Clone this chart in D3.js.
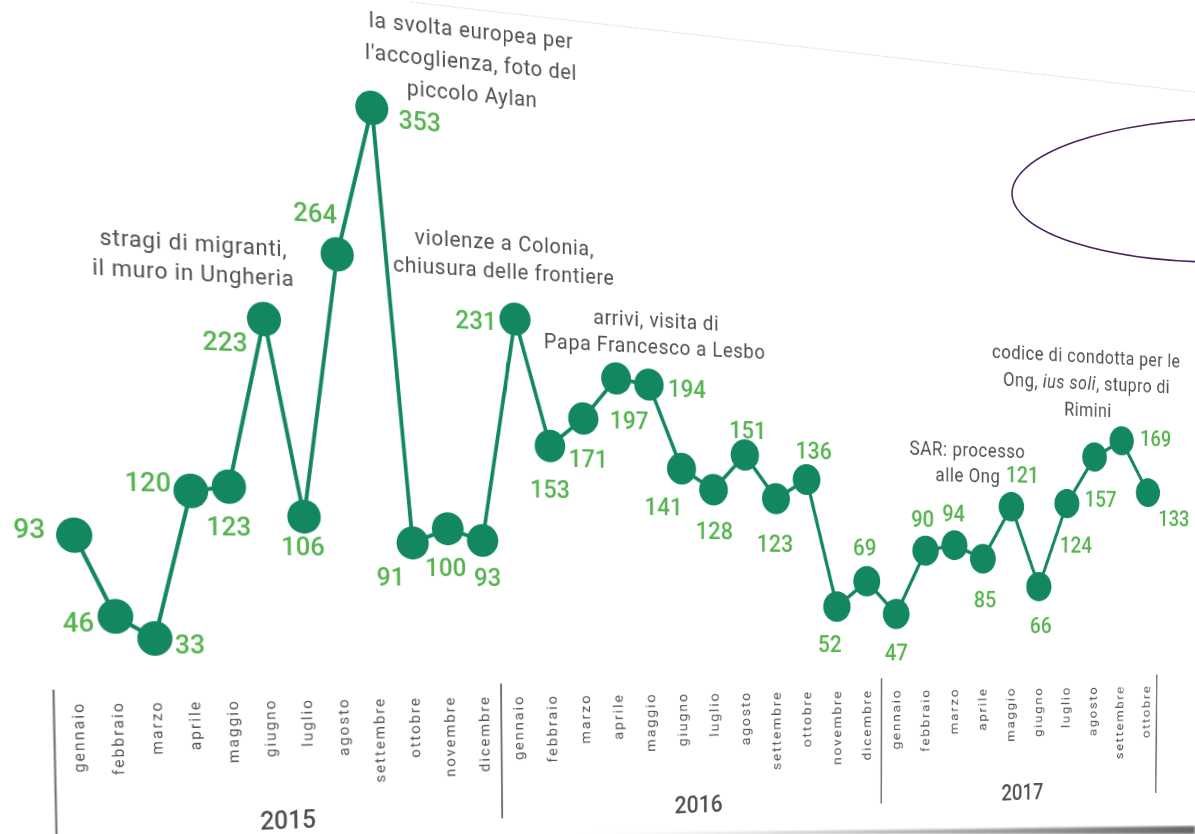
<!doctype html>
<html>
<head>
<meta charset="utf-8">
<title>Arrivi per mese 2015-2017</title>
<script src="https://cdn.jsdelivr.net/npm/d3@7"></script>
<style>
  body { margin: 0; background: #fff; overflow: hidden; width: 1195px; height: 834px; position: relative;
         font-family: Roboto, "Noto Sans", sans-serif; }
  #stage { position: absolute; left: 0; top: 0; width: 1400px; height: 900px; transform-origin: 0 0; }
  #paper { position: absolute; left: 0; top: 0; }
</style>
</head>
<body>
<div id="stage"><svg id="chart" width="1400" height="900" overflow="visible"></svg></div>
<svg id="paper" width="1195" height="834"></svg>
<script>
var months = ['gennaio', 'febbraio', 'marzo', 'aprile', 'maggio', 'giugno', 'luglio',
              'agosto', 'settembre', 'ottobre', 'novembre', 'dicembre'];
var years = ['2015', '2016', '2017'];
var values2015 = [93, 46, 33, 120, 123, 223, 106, 264, 353, 91, 100, 93];
var values2016 = [231, 153, 171, 197, 194, 141, 128, 151, 123, 136, 52, 69];
var values2017 = [47, 90, 94, 85, 121, 66, 124, 157, 169, 133];

// where each value label sits relative to its dot (photo px)
var labelOffsets = [[-45, -7], [-37, 6], [35, 6], [-43, -9], [0, 40], [-39, 22], [-1, 30], [-22, -41],
  [48, 13], [-22, 34], [-2, 39], [5, 37],
  [-39, 1], [0, 43], [5, 40], [13, 42], [38, 4], [-18, 38], [1, 41], [3, -25], [-1, 45], [7, -29],
  [-7, 37], [-2, -34],
  [0, 38], [-3, -32], [-1, -32], [2, 41], [11, -32], [2, 39], [9, 41], [6, 42], [34, -2], [26, 26]];

var notes = [
  { lines: ['la svolta europea per', "l'accoglienza, foto del", 'piccolo Aylan'], at: [473, 31], gap: 31.5 },
  { lines: ['stragi di migranti,', 'il muro in Ungheria'], at: [195, 243], gap: 30 },
  { lines: ['violenze a Colonia,', 'chiusura delle frontiere'], at: [506, 243], gap: 28 },
  { lines: ['arrivi, visita di', 'Papa Francesco a Lesbo'], at: [657, 320], gap: 27 },
  { lines: ['codice di condotta per le', 'Ong, *ius soli*, stupro di', 'Rimini'], at: [1088, 357], gap: 26.5 },
  { lines: ['SAR: processo', 'alle Ong'], at: [968, 450], gap: 26 }
];

// the page was photographed at an angle: where the corners of the flat page land
var pageSize = [1400, 900];
var pageCorners = [[-14.4, -43.0], [1219.1, 94.4], [1211.0, 846.4], [6.9, 907.9]];

var green = '#13875f', labelGreen = '#56b450', grey = '#4f5052';
var font = 'Roboto, "Noto Sans", sans-serif';

var series = [];
[values2015, values2016, values2017].forEach(function(vals, k) {
  vals.forEach(function(v, m) { series.push({ year: years[k], month: months[m], value: v }); });
});
series.forEach(function(d, i) { d.i = i; });

var x = d3.scaleLinear().domain([0, 33]).range([70, 1304.2]);
var y = d3.scaleLinear().domain([0, 353]).range([696, 107]);

function solve(A, b) {
  var n = b.length;
  for (var i = 0; i < n; i++) {
    var p = i;
    for (var r = i + 1; r < n; r++) if (Math.abs(A[r][i]) > Math.abs(A[p][i])) p = r;
    var t = A[i]; A[i] = A[p]; A[p] = t; t = b[i]; b[i] = b[p]; b[p] = t;
    for (r = i + 1; r < n; r++) {
      var f = A[r][i] / A[i][i];
      for (var c = i; c < n; c++) A[r][c] -= f * A[i][c];
      b[r] -= f * b[i];
    }
  }
  var out = new Array(n).fill(0);
  for (i = n - 1; i >= 0; i--) {
    var s = b[i];
    for (c = i + 1; c < n; c++) s -= A[i][c] * out[c];
    out[i] = s / A[i][i];
  }
  return out;
}

// homography from 4 point pairs
function homography(src, dst) {
  var A = [], b = [];
  src.forEach(function(p, k) {
    var X = dst[k][0], Y = dst[k][1];
    A.push([p[0], p[1], 1, 0, 0, 0, -p[0] * X, -p[1] * X]); b.push(X);
    A.push([0, 0, 0, p[0], p[1], 1, -p[0] * Y, -p[1] * Y]); b.push(Y);
  });
  return solve(A, b);
}

function project(H, p) {
  var w = H[6] * p[0] + H[7] * p[1] + 1;
  return [(H[0] * p[0] + H[1] * p[1] + H[2]) / w, (H[3] * p[0] + H[4] * p[1] + H[5]) / w];
}

function invert(H) {
  var a = H[0], b = H[1], c = H[2], d = H[3], e = H[4], f = H[5], g = H[6], h = H[7], k = 1;
  var A = e * k - f * h, B = c * h - b * k, C = b * f - c * e,
      D = f * g - d * k, E = a * k - c * g, F = c * d - a * f,
      G = d * h - e * g, Hh = b * g - a * h, I = a * e - b * d;
  return [A / I, B / I, C / I, D / I, E / I, F / I, G / I, Hh / I];
}

var W = pageSize[0], Ht = pageSize[1];
var H = homography([[0, 0], [W, 0], [W, Ht], [0, Ht]], pageCorners);
var Hinv = invert(H);
function toFlat(p) { return project(Hinv, p); }

d3.select('#stage').style('transform', 'matrix3d(' + [H[0], H[3], 0, H[6], H[1], H[4], 0, H[7],
  0, 0, 1, 0, H[2], H[5], 0, 1].join(',') + ')');

var svg = d3.select('#chart');

// axis: month labels, year separators, year labels
var axis = svg.append('g').attr('class', 'axis');
axis.selectAll('text.month')
  .data(series)
  .enter().append('text')
    .attr('class', 'month')
    .attr('transform', function(d) { return 'translate(' + x(d.i) + ',702) rotate(-90)'; })
    .attr('text-anchor', 'end')
    .attr('dominant-baseline', 'central')
    .attr('font-family', font)
    .attr('font-size', 15.5)
    .attr('letter-spacing', 2)
    .attr('fill', '#555')
    .text(function(d) { return d.month; });

var bounds = [-0.6, 11.5, 23.5, 33.4];
axis.selectAll('line.sep')
  .data(bounds)
  .enter().append('line')
    .attr('class', 'sep')
    .attr('x1', function(d) { return x(d); })
    .attr('x2', function(d) { return x(d); })
    .attr('y1', 690).attr('y2', 832)
    .attr('stroke', '#6f6f6f').attr('stroke-width', 2);

axis.selectAll('text.year')
  .data(years)
  .enter().append('text')
    .attr('class', 'year')
    .attr('x', function(d, k) { return x((bounds[k] + bounds[k + 1]) / 2); })
    .attr('y', 825)
    .attr('text-anchor', 'middle')
    .attr('dominant-baseline', 'central')
    .attr('font-family', font)
    .attr('font-size', 25)
    .attr('font-weight', 500)
    .attr('fill', grey)
    .text(function(d) { return d; });

// line and dots
var line = d3.line().x(function(d) { return x(d.i); }).y(function(d) { return y(d.value); });
svg.append('path')
  .datum(series)
  .attr('d', line)
  .attr('fill', 'none')
  .attr('stroke', green)
  .attr('stroke-width', 4);

svg.selectAll('circle.dot')
  .data(series)
  .enter().append('circle')
    .attr('class', 'dot')
    .attr('cx', function(d) { return x(d.i); })
    .attr('cy', function(d) { return y(d.value); })
    .attr('r', 17)
    .attr('fill', green);

// value labels, placed in photo space then brought back to the flat page
svg.selectAll('text.value')
  .data(series)
  .enter().append('text')
    .attr('class', 'value')
    .each(function(d) {
      var s = project(H, [x(d.i), y(d.value)]);
      var o = labelOffsets[d.i];
      var p = toFlat([s[0] + o[0], s[1] + o[1]]);
      d3.select(this).attr('x', p[0]).attr('y', p[1]);
    })
    .attr('text-anchor', 'middle')
    .attr('dominant-baseline', 'central')
    .attr('font-family', font)
    .attr('font-size', 26)
    .attr('font-weight', 500)
    .attr('fill', labelGreen)
    .text(function(d) { return d.value; });

// annotations
notes.forEach(function(n) {
  n.lines.forEach(function(str, k) {
    var p = toFlat([n.at[0], n.at[1] + k * n.gap]);
    var t = svg.append('text')
      .attr('x', p[0]).attr('y', p[1])
      .attr('text-anchor', 'middle')
      .attr('dominant-baseline', 'central')
      .attr('font-family', font)
      .attr('font-size', 22)
      .attr('letter-spacing', 0.7)
      .attr('fill', grey);
    str.split('*').forEach(function(part, j) {
      t.append('tspan').attr('font-style', j % 2 ? 'italic' : null).text(part);
    });
  });
});

// the photographed page: edge, shadow, pen ellipse
var paper = d3.select('#paper');
var defs = paper.append('defs');
var grad = defs.append('linearGradient').attr('id', 'shade').attr('x1', 0).attr('x2', 1);
grad.append('stop').attr('offset', 0).attr('stop-color', '#888').attr('stop-opacity', 0);
grad.append('stop').attr('offset', 1).attr('stop-color', '#555').attr('stop-opacity', 0.9);
defs.append('filter').attr('id', 'soft').append('feGaussianBlur').attr('stdDeviation', 1.2);

paper.append('line')
  .attr('x1', 410).attr('y1', 2).attr('x2', 1195).attr('y2', 92)
  .attr('stroke', '#dadada').attr('stroke-width', 1.2).attr('stroke-dasharray', '1.5,1.5');
paper.append('polygon')
  .attr('points', '560,834 1195,826 1195,834')
  .attr('fill', 'url(#shade)')
  .attr('filter', 'url(#soft)');
paper.append('ellipse')
  .attr('cx', 1230).attr('cy', 190).attr('rx', 218).attr('ry', 72)
  .attr('transform', 'rotate(-1 1230 190)')
  .attr('fill', 'none').attr('stroke', '#4b2561').attr('stroke-width', 1.6);
</script>
</body>
</html>
